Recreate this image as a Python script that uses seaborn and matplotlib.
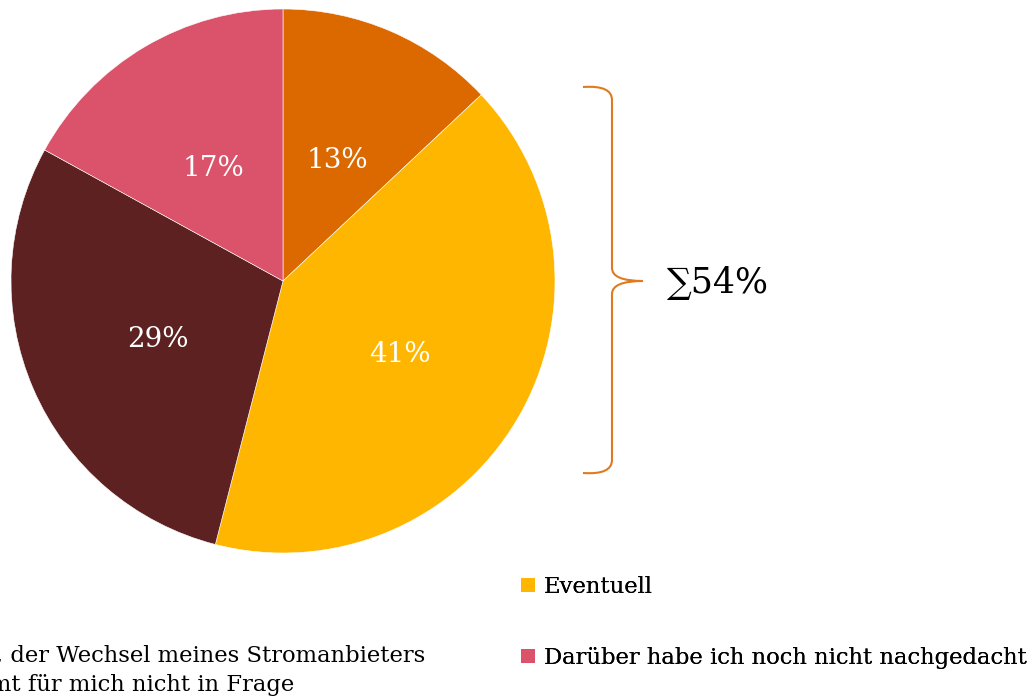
import matplotlib
matplotlib.use("Agg")
import matplotlib.pyplot as plt
from matplotlib.path import Path
from matplotlib.patches import PathPatch, Patch
import seaborn as sns

# data, in clockwise order starting at 12 o'clock
labels = ["Ja",
          "Eventuell",
          "Nein, der Wechsel meines Stromanbieters\nkommt für mich nicht in Frage",
          "Darüber habe ich noch nicht nachgedacht"]
shares = [13, 41, 29, 17]
colors = ["#DC6900", "#FFB600", "#5E2121", "#DB536A"]
sum_label = "∑54%"

sns.set_theme(style="white")
plt.rcParams["font.family"] = ["DejaVu Serif", "DejaVu Sans"]
plt.rcParams["text.color"] = "black"

W, H = 1035, 698
fig = plt.figure(figsize=(W / 100, H / 100), dpi=100)

# pie axes: centre (283, 281) px, radius 272 px
cx, cy, r = 283, 281, 272
ax = fig.add_axes([(cx - r) / W, (H - cy - r) / H, 2 * r / W, 2 * r / H])
wedges, _, autotexts = ax.pie(
    shares, colors=colors, startangle=90, counterclock=False,
    autopct=lambda p: f"{p:.0f}%", pctdistance=0.5,
    wedgeprops=dict(edgecolor="white", linewidth=0.4),
    textprops=dict(color="white", fontsize=20))
for t in autotexts:
    x, y = t.get_position()
    t.set_position((x, y - 0.015))
ax.set_xlim(-1, 1)
ax.set_ylim(-1, 1)
ax.axis("off")

# overlay in pixel coordinates for the brace and the sum label
ov = fig.add_axes([0, 0, 1, 1])
ov.set_xlim(0, W)
ov.set_ylim(H, 0)
ov.axis("off")
verts = [(583, 87), (612, 85), (612, 100),
         (612, 268), (612, 281), (643, 281),
         (612, 281), (612, 294), (612, 460),
         (612, 475), (583, 473)]
codes = [Path.MOVETO, Path.CURVE3, Path.CURVE3,
         Path.LINETO, Path.CURVE3, Path.CURVE3,
         Path.CURVE3, Path.CURVE3, Path.LINETO,
         Path.CURVE3, Path.CURVE3]
ov.add_patch(PathPatch(Path(verts, codes), fill=False,
                       edgecolor="#E07A1F", linewidth=1.5))
ov.text(667, 283, sum_label, fontsize=25, color="black",
        ha="left", va="center")

# legend: right column fully visible, left column runs off the canvas
fs = 16.3
handles = [Patch(facecolor=c, edgecolor="none") for c in colors]
leg_right = fig.legend([handles[1], handles[3]], [labels[1], labels[3]],
                       loc="upper left", bbox_to_anchor=(521 / W, 1 - 576 / H),
                       frameon=False, fontsize=fs, handlelength=0.6,
                       handleheight=0.6, handletextpad=0.4, labelspacing=2.15,
                       borderpad=0, borderaxespad=0, labelcolor="black")
fig.add_artist(leg_right)
leg_left = fig.legend([handles[0], handles[2]], [labels[0], labels[2]],
                      loc="lower right", bbox_to_anchor=(425 / W, 1 - 696 / H),
                      frameon=False, fontsize=fs, handlelength=0.6,
                      handleheight=0.6, handletextpad=0.4, labelspacing=1.3,
                      borderpad=0, borderaxespad=0, labelcolor="black")
for t in leg_left.get_texts():
    t.set_linespacing(1.45)

fig.savefig("out.png", dpi=100)
